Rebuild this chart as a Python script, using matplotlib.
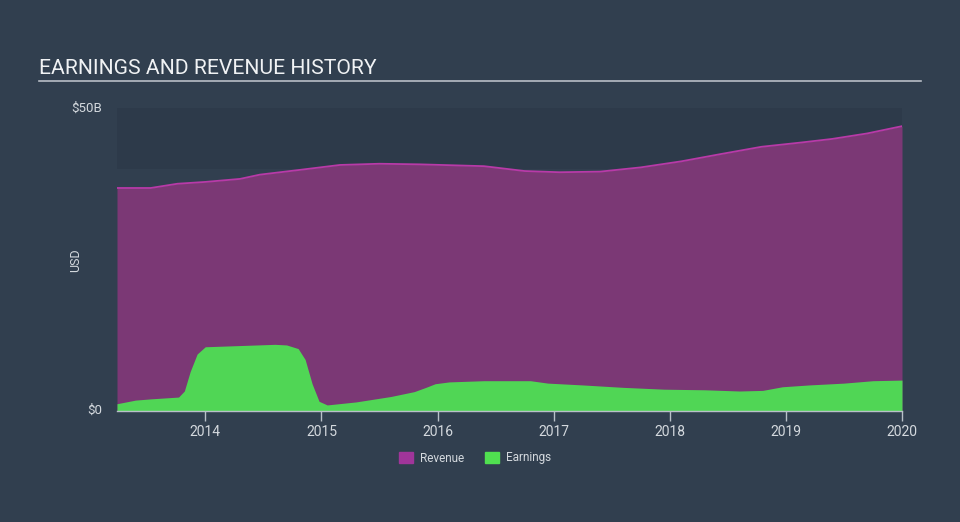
import numpy as np
import matplotlib.pyplot as plt
from matplotlib.patches import Patch

plt.rcParams['font.family'] = ['Roboto', 'DejaVu Sans']

# data (fractional years, values in $B)
rev_x = [2013.24, 2013.53, 2013.76, 2014.0, 2014.3, 2014.47, 2014.82, 2015.16, 2015.5,
         2015.85, 2016.4, 2016.75, 2017.05, 2017.4, 2017.75, 2018.1, 2018.44,
         2018.79, 2019.13, 2019.4, 2019.7, 2020.0]
revenue = [36.8, 36.8, 37.5, 37.8, 38.3, 39.0, 39.8, 40.6, 40.8,
           40.7, 40.4, 39.6, 39.4, 39.5, 40.2, 41.2, 42.4,
           43.6, 44.3, 44.9, 45.8, 47.0]

earn_x = [2013.24, 2013.4, 2013.53, 2013.77, 2013.82, 2013.87, 2013.93, 2014.0, 2014.3, 2014.6,
          2014.7, 2014.8, 2014.86, 2014.92, 2014.98, 2015.05, 2015.3, 2015.6, 2015.8, 2015.9,
          2015.98, 2016.1, 2016.4, 2016.8, 2016.95, 2017.25, 2017.6, 2017.95, 2018.3, 2018.6,
          2018.8, 2018.97, 2019.2, 2019.5, 2019.75, 2020.0]
earnings = [1.2, 1.8, 2.0, 2.3, 3.3, 6.5, 9.4, 10.6, 10.8, 11.0,
            10.9, 10.3, 8.5, 4.5, 1.6, 1.0, 1.5, 2.4, 3.2, 3.9,
            4.5, 4.8, 5.0, 5.0, 4.6, 4.3, 3.9, 3.6, 3.5, 3.3,
            3.4, 4.0, 4.3, 4.6, 5.0, 5.1]

years = [2014, 2015, 2016, 2017, 2018, 2019, 2020]

bg = '#313f4f'
fig = plt.figure(figsize=(9.6, 5.22), dpi=100, facecolor=bg)
ax = fig.add_axes([117/960, 1 - 411/522, 785/960, 303/522])
ax.set_facecolor(bg)

ax.axhspan(40, 50, color='#2d3a4a', zorder=0, lw=0)
ax.fill_between(rev_x, revenue, color='#7b3875', lw=0, zorder=1)
ax.plot(rev_x, revenue, color='#b83aa8', lw=1.3, zorder=2)
ax.fill_between(earn_x, earnings, color='#50d655', lw=0, zorder=3)

ax.set_xlim(2013.24, 2020.0)
ax.set_ylim(0, 50)
ax.set_xticks(years)
ax.set_xticklabels([str(y) for y in years])
ax.set_yticks([])
for s in ['top', 'right', 'left']:
    ax.spines[s].set_visible(False)
ax.spines['bottom'].set_color('#b8c0c8')
ax.spines['bottom'].set_linewidth(1)
ax.spines['bottom'].set_zorder(5)
ax.tick_params(axis='x', colors='#b8c0c8', length=7, width=1, labelsize=10,
               labelcolor='#d4d9de', pad=3)

fig.text(102/960, 1 - 108/522, '$50B', ha='right', va='center', fontsize=9.5, color='#d4d9de')
fig.text(102/960, 1 - 410/522, '$0', ha='right', va='center', fontsize=9.5, color='#d4d9de')
fig.text(76/960, 1 - 260/522, 'USD', ha='center', va='center', rotation=90, fontsize=9, color='#d4d9de')

fig.text(39/960, 1 - 69/522, 'EARNINGS AND REVENUE HISTORY', ha='left', va='center',
         fontsize=15.2, color='#f0f2f4')
fig.add_artist(plt.Line2D([39/960, 921/960], [1 - 81/522, 1 - 81/522],
                          color='#b8bec6', lw=1.2))

handles = [Patch(color='#a0359a', label='Revenue'), Patch(color='#50e050', label='Earnings')]
fig.legend(handles=handles, loc='center', bbox_to_anchor=(475/960, 1 - 458/522), ncol=2,
           frameon=False, fontsize=8.5, labelcolor='#d4d9de', handlelength=1.2,
           handleheight=1.0, columnspacing=1.8, handletextpad=0.6)

fig.savefig('out.png', dpi=100, facecolor=bg)
